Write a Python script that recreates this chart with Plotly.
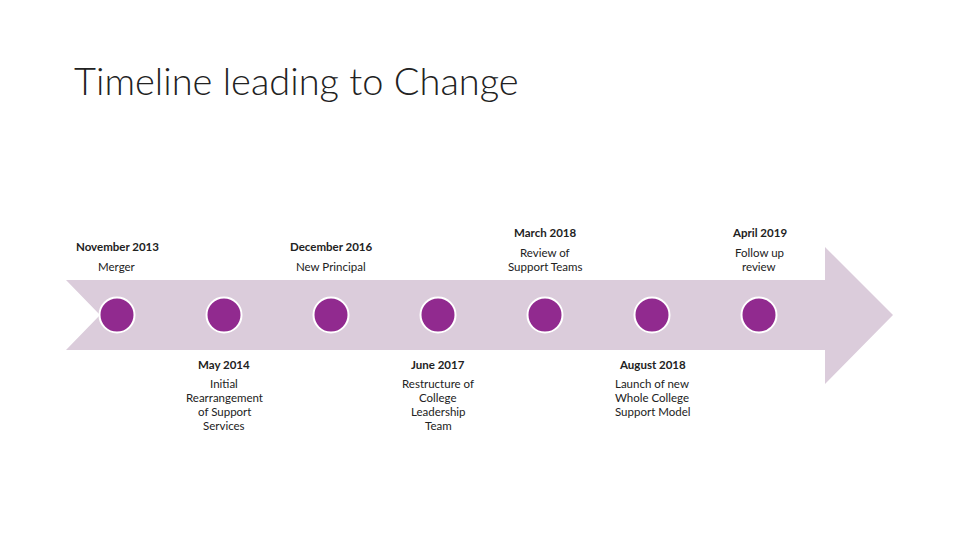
import plotly.graph_objects as go

dates = ["November 2013", "May 2014", "December 2016", "June 2017", "March 2018", "August 2018", "April 2019"]
descs = [["Merger"], ["Initial", "Rearrangement", "of Support", "Services"], ["New Principal"],
         ["Restructure of", "College", "Leadership", "Team"], ["Review of", "Support Teams"],
         ["Launch of new", "Whole College", "Support Model"], ["Follow up", "review"]]
sides = ["up", "down", "up", "down", "up", "down", "up"]

W, H = 960, 540
OFF = 8  # page body offset compensation
x0, dx = 117, 107
idx = list(range(len(dates)))
fig = go.Figure()

def px(i):
    return x0 + dx * i

fig.add_shape(type="path", xref="x", yref="y",
              path="M 66 280 L 825 280 L 825 247 L 893 315 L 825 384 L 825 350 L 66 350 L 100 315 Z",
              fillcolor="#DBCCDB", line=dict(width=0), layer="below")

fig.add_trace(go.Scatter(x=[px(i) for i in idx], y=[315] * len(idx), mode="markers",
                         marker=dict(size=35, color="#912A8F", line=dict(color="white", width=2)),
                         hoverinfo="skip"))

font = "Lato"
for i, (d, ds, s) in enumerate(zip(dates, descs, sides)):
    x = px(i)
    if s == "up":
        n = len(ds)
        date_y = 266 - 14 * (n - 1) - 20
        desc_ys = [266 - 14 * (n - 1 - k) for k in range(n)]
    else:
        date_y = 364
        desc_ys = [383 + 14 * k for k in range(len(ds))]
    fig.add_annotation(x=x, y=date_y, text="<b>" + d + "</b>", showarrow=False,
                       font=dict(family=font, size=11.5, color="#222"))
    for t, yy in zip(ds, desc_ys):
        fig.add_annotation(x=x, y=yy, text=t, showarrow=False,
                           font=dict(family=font, size=11.5, color="#222"))

fig.add_annotation(x=72, y=80, text="Timeline leading to Change", showarrow=False, xanchor="left",
                   font=dict(family=font, size=38, color="#222", weight=300))

fig.update_layout(width=W, height=H, margin=dict(l=0, r=0, t=0, b=0),
                  paper_bgcolor="white", plot_bgcolor="white", showlegend=False,
                  xaxis=dict(range=[OFF, W + OFF], visible=False),
                  yaxis=dict(range=[H + OFF, OFF], visible=False))
fig.write_html("out.html")
